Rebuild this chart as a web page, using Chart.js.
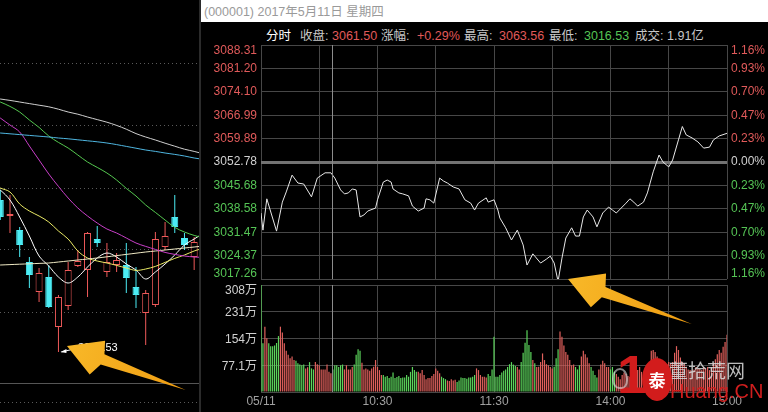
<!DOCTYPE html>
<html>
<head>
<meta charset="utf-8">
<title>上证指数 分时 2017-05-11</title>
<script src="https://cdn.jsdelivr.net/npm/chart.js@4.4.1/dist/chart.umd.min.js"></script>
<style>
  html, body { margin: 0; padding: 0; background: #000; }
  #stage { position: relative; width: 768px; height: 412px; overflow: hidden; background: #000;
           font-family: "Liberation Sans", Arial, "Noto Sans CJK SC", sans-serif; }
  #stage canvas { position: absolute; left: 0; top: 0; }
  .txt { position: absolute; white-space: nowrap; font-size: 12.5px; line-height: 14px; }
  .lbl { color: #c8c8c8; }
  .up { color: #e05a5a; }
  .dn { color: #55c455; }
</style>
</head>
<body>
<div id="stage">
  <div style="position:absolute;left:201px;top:0;width:567px;height:22px;background:#fff"></div>
  <div style="position:absolute;left:199px;top:0;width:2px;height:412px;background:#2b2b2b"></div>
  <div style="position:absolute;left:0;top:383px;width:199px;height:1px;background:#555"></div>

  <div class="txt" style="left:204px;top:5px;color:#9a9a9a">(000001) 2017年5月11日 星期四</div>
  <div class="txt" style="left:266px;top:29px;color:#fff">分时</div>
  <div class="txt lbl" style="left:300px;top:29px">收盘:</div>
  <div class="txt up" style="left:332px;top:29px">3061.50</div>
  <div class="txt lbl" style="left:381px;top:29px">涨幅:</div>
  <div class="txt up" style="left:417px;top:29px">+0.29%</div>
  <div class="txt lbl" style="left:464px;top:29px">最高:</div>
  <div class="txt up" style="left:499px;top:29px">3063.56</div>
  <div class="txt lbl" style="left:549px;top:29px">最低:</div>
  <div class="txt dn" style="left:584px;top:29px">3016.53</div>
  <div class="txt lbl" style="left:635px;top:29px">成交:</div>
  <div class="txt lbl" style="left:667px;top:29px">1.91亿</div>

  <canvas id="kline" width="768" height="412"></canvas>
  <canvas id="price" width="768" height="412"></canvas>
  <canvas id="vol" width="768" height="412"></canvas>

  <!-- watermark -->
  <div class="txt" style="left:669px;top:362px;font-size:19px;line-height:19px;color:rgba(220,220,220,.85)">董拾荒网</div>
  <div class="txt" style="left:617px;top:347px;font-size:54px;line-height:54px;font-weight:bold;color:#d21c1c">1</div>
  <div style="position:absolute;left:612px;top:368px;width:12px;height:17px;border:2px solid rgba(220,220,220,.6);border-radius:50% 50% 40% 45%"></div>
  <div style="position:absolute;left:642px;top:358px;width:30px;height:43px;border-radius:50%;background:#d21c1c;color:#fff;font:bold 17px/43px 'Noto Sans CJK SC';text-align:center">泰</div>
  <div class="txt" style="left:670px;top:381px;font-size:20px;line-height:20px;color:#d01e1e">Huang.CN</div>
</div>

<script>
const family = '"Liberation Sans", Arial, "Noto Sans CJK SC", sans-serif'
const gridColor = '#474747'
const upColor = '#e05a5a'
const downColor = '#55c455'
const flatColor = '#d0d0d0'

// ---- daily K-line (left, cropped) ----
const kIndex = [0, 1, 2, 3, 4, 5, 6, 7, 8, 9, 10, 11, 12, 13, 14, 15, 16, 17, 18, 19, 20]
const kOpen  = [3092.5, 3084.5, 3077.5, 3061.5, 3046.5, 3054.0, 3029.0, 3039.5, 3059.5, 3057.5, 3073.0, 3056.5, 3060.0, 3060.0, 3049.0, 3036.0, 3040.0, 3069.0, 3084.0, 3073.5, 3064.0]
const kClose = [3084.0, 3085.5, 3070.0, 3055.0, 3056.0, 3039.0, 3044.0, 3057.5, 3062.0, 3076.0, 3071.0, 3061.5, 3062.5, 3053.5, 3045.0, 3046.0, 3073.0, 3074.5, 3079.0, 3070.0, 3071.5]
const kHigh  = [3097.5, 3095.0, 3079.0, 3064.0, 3058.5, 3060.0, 3045.0, 3061.5, 3067.5, 3076.5, 3079.5, 3071.0, 3066.0, 3071.0, 3059.0, 3047.5, 3076.5, 3081.5, 3095.0, 3076.0, 3074.0]
const kLow   = [3082.5, 3076.0, 3064.0, 3048.5, 3041.5, 3038.5, 3016.53, 3037.5, 3059.0, 3044.0, 3069.0, 3054.0, 3056.5, 3046.0, 3038.5, 3020.0, 3039.0, 3067.5, 3076.0, 3067.5, 3057.5]
const kGrid  = [3161, 3129.5, 3098.5, 3067.5, 3036.5, 2991.5]

// moving averages, one value per candle (index -1 .. 21)
const maIndex = [-1, 0, 1, 2, 3, 4, 5, 6, 7, 8, 9, 10, 11, 12, 13, 14, 15, 16, 17, 18, 19, 20, 21]
const maGray    = [3143.8, 3143.0, 3142.3, 3141.5, 3140.7, 3139.9, 3139.1, 3137.9, 3136.5, 3135.4, 3134.0, 3132.7, 3131.4, 3129.8, 3127.9, 3125.7, 3124.0, 3122.5, 3120.9, 3119.4, 3117.9, 3116.8, 3115.5]
const maBlue    = [3126.4, 3126.0, 3125.6, 3125.2, 3124.8, 3124.4, 3124.0, 3123.5, 3123.1, 3122.6, 3122.1, 3121.6, 3121.0, 3120.2, 3119.3, 3118.4, 3117.5, 3116.8, 3116.0, 3115.3, 3114.5, 3113.5, 3112.8]
const maGreen   = [3143.5, 3141.5, 3139.3, 3136.5, 3132.5, 3128.8, 3124.5, 3121.3, 3118.5, 3115.0, 3111.5, 3108.8, 3106.0, 3102.5, 3098.3, 3094.5, 3090.0, 3086.3, 3082.5, 3078.8, 3076.5, 3074.8, 3073.5]
const maMagenta = [3137.5, 3133.5, 3130.0, 3126.5, 3119.5, 3112.5, 3105.5, 3099.3, 3093.5, 3088.5, 3084.5, 3081.0, 3078.0, 3076.0, 3073.5, 3071.0, 3069.3, 3067.8, 3066.3, 3065.3, 3064.5, 3064.0, 3063.8]
const maYellow  = [3101.0, 3098.5, 3096.5, 3090.5, 3087.0, 3084.5, 3081.5, 3077.0, 3073.0, 3067.0, 3063.5, 3062.0, 3061.0, 3059.8, 3058.5, 3057.3, 3058.0, 3059.3, 3061.3, 3063.3, 3065.0, 3067.0, 3068.5]
const maWhite   = [3101.5, 3097.5, 3092.5, 3084.0, 3074.5, 3064.5, 3059.5, 3054.0, 3051.0, 3054.0, 3059.0, 3063.5, 3066.0, 3064.0, 3060.5, 3057.5, 3053.0, 3056.5, 3060.5, 3065.0, 3070.0, 3073.0, 3076.0]
const maCream   = [3059.8, 3060.0, 3060.2, 3060.4, 3060.6, 3060.8, 3061.0, 3061.5, 3062.0, 3062.5, 3063.0, 3063.5, 3064.1, 3064.7, 3065.3, 3065.9, 3066.5, 3067.0, 3067.5, 3068.0, 3068.5, 3069.0, 3069.5]

// ---- intraday price, minutes after 09:30 (240 = 15:00) ----
const prevClose = 3052.78
const priceMinutes = [0, 1, 3, 8, 11, 13, 16, 19, 22, 26, 29, 33, 36, 38, 41, 43, 45, 47, 49, 51, 53, 55, 59, 60, 63, 65, 67, 68, 71, 73, 76, 78, 81, 84, 85, 87, 89, 92, 94, 96, 99, 102, 105, 108, 110, 112, 116, 117, 120,
  122, 123, 126, 129, 132, 135, 137, 140, 144, 147, 149, 151, 153, 155, 157, 160, 162, 164, 166, 168, 171, 173, 176, 179, 181, 183, 185, 188, 190, 192, 194, 197, 199, 202, 205, 207, 210, 212, 215, 217, 219, 222, 225, 228, 231, 233, 236, 240]
const priceValues = [3037.3, 3032.1, 3041.6, 3031.8, 3040.6, 3043.7, 3048.8, 3046.4, 3046.1, 3042.2, 3047.9, 3049.5, 3049.5, 3047.9, 3044.3, 3043.1, 3043.4, 3044.6, 3044.3, 3036.1, 3036.7, 3037.9, 3038.8, 3041.3, 3046.7, 3047.3, 3046.7, 3044.6, 3043.4, 3043.1, 3042.5, 3039.4, 3037.9, 3038.8, 3041.6, 3041.3, 3040.3, 3047.9, 3047.0, 3046.4, 3045.2, 3044.6, 3041.3, 3040.3, 3038.2, 3040.3, 3041.9, 3040.6, 3041.3,
  3038.2, 3035.8, 3032.8, 3029.1, 3032.1, 3027.6, 3021.5, 3024.9, 3022.1, 3023.3, 3024.2, 3022.1, 3016.53, 3023.6, 3029.7, 3032.8, 3030.3, 3030.3, 3036.1, 3038.2, 3036.1, 3033.1, 3037.3, 3039.1, 3038.2, 3037.3, 3038.5, 3040.3, 3041.6, 3040.6, 3039.4, 3040.6, 3043.4, 3049.8, 3054.9, 3052.8, 3051.3, 3053.4, 3059.5, 3063.56, 3061.0, 3060.1, 3058.9, 3057.0, 3057.3, 3059.5, 3060.7, 3061.5]
const priceTicks = [3088.31, 3081.20, 3074.10, 3066.99, 3059.89, 3052.78, 3045.68, 3038.58, 3031.47, 3024.37, 3017.26]
const pctLabels = ['1.16%', '0.93%', '0.70%', '0.47%', '0.23%', '0.00%', '0.23%', '0.47%', '0.70%', '0.93%', '1.16%']
const timeTicks = [0, 30, 60, 90, 120, 150, 180, 210, 240]
const timeLabels = ['05/11', '', '10:30', '', '11:30', '', '14:00', '', '15:00']
const cursorMinute = 36.5

// ---- volume per minute (万手); r = rising minute, g = falling minute ----
const volTicks = [77.1, 154, 231, 308]
const volTickLabels = ['77.1万', '154万', '231万', '308万']
const volumes = [308, 140, 188, 155, 140, 132, 132, 134, 141, 161, 188, 171, 140, 119, 107, 97, 102, 92, 90, 83,
  79, 77, 79, 68, 71, 86, 68, 65, 86, 80, 77, 65, 65, 65, 79, 58, 54, 65, 77, 77,
  72, 77, 79, 65, 77, 65, 65, 72, 79, 107, 123, 119, 84, 65, 68, 65, 61, 68, 73, 92,
  72, 63, 49, 49, 44, 46, 40, 44, 56, 40, 43, 46, 40, 42, 42, 49, 44, 58, 72, 63,
  58, 58, 54, 63, 49, 37, 40, 40, 46, 52, 68, 61, 54, 44, 40, 37, 33, 32, 37, 33,
  35, 29, 33, 42, 40, 40, 38, 42, 42, 44, 49, 68, 63, 49, 44, 44, 42, 52, 46, 65, 159,
  44, 44, 49, 56, 61, 65, 72, 80, 86, 79, 75, 72, 65, 86, 113, 142, 178, 135, 115, 92,
  83, 72, 73, 86, 111, 92, 80, 77, 72, 68, 73, 97, 123, 174, 159, 134, 115, 107, 92, 77,
  79, 72, 65, 77, 102, 119, 109, 99, 83, 72, 61, 49, 42, 65, 79, 90, 83, 72, 72, 65,
  72, 58, 52, 44, 37, 49, 56, 52, 46, 44, 49, 52, 55, 63, 72, 58, 44, 49, 54, 68,
  119, 121, 115, 102, 86, 83, 72, 68, 77, 86, 83, 86, 113, 132, 121, 99, 86, 83, 73, 65,
  63, 61, 65, 72, 68, 66, 63, 72, 68, 72, 63, 72, 83, 94, 109, 121, 113, 130, 144, 165]
const volDir = ('gg rr gggggg rrrrrrrr ggggg rr ggg rrrrrrrrr gggggg rrrrr gggg rrrrrrrrrrr gggggggggggggggggg rrrrrrrrrrrr ggg rrrrr gggggggggg rrrrrr gggg' +
  ' ggggggggggg rr gggggg r g rrrrrrrrr ggg rrrrrrrr ggg rrrrr gggg rrrrrr ggg rrrrrrrrrrrrrrrrrrrrrrrrrrrrrrrrrrrrrrrrrrrrrrrrrrrrrrrrrr').replace(/ /g, '').split('')

const noFx = { responsive: false, animation: false, events: [] }
const quiet = { legend: { display: false }, tooltip: { enabled: false } }

// ---------- left: cropped daily candles ----------
const lowMarker = {
  id: 'lowMarker',
  afterDatasetsDraw(chart) {
    const { ctx, scales: { x, y } } = chart
    const i = kLow.indexOf(Math.min(...kLow))
    const px = x.getPixelForValue(kIndex[i])
    const py = y.getPixelForValue(kLow[i])
    ctx.save()
    ctx.strokeStyle = '#fff'
    ctx.fillStyle = '#fff'
    ctx.lineWidth = 1
    ctx.beginPath()
    ctx.moveTo(px + 3, py)
    ctx.lineTo(px + 16, py - 3)
    ctx.stroke()
    ctx.beginPath()
    ctx.moveTo(px + 2, py)
    ctx.lineTo(px + 8, py - 3)
    ctx.lineTo(px + 8, py + 1)
    ctx.fill()
    ctx.font = '11px ' + family
    ctx.textBaseline = 'middle'
    ctx.fillText(kLow[i].toFixed(2), px + 19.5, py - 4)
    ctx.restore()
  }
}

const maSeries = [
  { values: maGray, color: '#cfcfcf' },
  { values: maBlue, color: '#4fb6e0' },
  { values: maGreen, color: '#55c850' },
  { values: maMagenta, color: '#c83fc8' },
  { values: maCream, color: '#efe9c4' },
  { values: maYellow, color: '#eaea66' },
  { values: maWhite, color: '#ffffff' }
]
const isUp = kIndex.map((k, i) => kClose[i] >= kOpen[i])
const kRed = '#f05a5a'
const kCyan = '#4cecf4'

const klineChart = new Chart(document.getElementById('kline'), {
  type: 'bar',
  data: {
    datasets: [
      ...maSeries.map(s => ({
        type: 'line',
        data: maIndex.map((k, i) => ({ x: k, y: s.values[i] })),
        borderColor: s.color, borderWidth: 1, pointRadius: 0, tension: 0.35, order: 0
      })),
      {
        data: kIndex.map((k, i) => ({ x: k, y: [kLow[i], kHigh[i]] })),
        backgroundColor: isUp.map(u => u ? kRed : kCyan),
        barThickness: 1, grouped: false, order: 2, inflateAmount: 0, borderWidth: 0
      },
      {
        data: kIndex.map((k, i) => ({ x: k, y: [kOpen[i], kClose[i]] })),
        backgroundColor: isUp.map(u => u ? '#000' : kCyan),
        borderColor: isUp.map(u => u ? kRed : kCyan),
        borderWidth: 1, borderSkipped: false, barThickness: 7, grouped: false, order: 1, inflateAmount: 0
      }
    ]
  },
  options: {
    ...noFx,
    layout: { padding: { left: 0, right: 569, top: 0, bottom: 0 } },
    plugins: quiet,
    scales: {
      x: { type: 'linear', min: -0.03, max: 20.5, offset: false, display: false },
      y: {
        min: 2986.5, max: 3192.5,
        afterBuildTicks: s => { s.ticks = kGrid.map(v => ({ value: v })) },
        afterFit: s => { s.width = 0 },
        grid: { color: '#5a5a5a', drawTicks: false },
        border: { display: false, dash: [1, 3] },
        ticks: { display: false }
      }
    }
  },
  plugins: [lowMarker]
})

// ---------- right top: intraday price ----------
const priceLabels = {
  id: 'priceLabels',
  afterDraw(chart) {
    const { ctx, chartArea, scales: { x, y } } = chart
    ctx.save()
    const cx = Math.round(x.getPixelForValue(cursorMinute)) + 0.5
    ctx.strokeStyle = '#8c8c8c'
    ctx.beginPath()
    ctx.moveTo(cx, chartArea.top)
    ctx.lineTo(cx, chartArea.bottom)
    ctx.stroke()
    ctx.font = '12px ' + family
    ctx.textBaseline = 'middle'
    priceTicks.forEach((v, i) => {
      let py = y.getPixelForValue(v)
      if (i === 0) py += 6
      if (i === priceTicks.length - 1) py -= 5
      ctx.fillStyle = v > prevClose + 0.001 ? upColor : (v < prevClose - 0.001 ? downColor : flatColor)
      ctx.textAlign = 'right'
      ctx.fillText(v.toFixed(2), chartArea.left - 4, py)
      ctx.textAlign = 'left'
      ctx.fillText(pctLabels[i], chartArea.right + 4, py)
    })
    ctx.restore()
  }
}

const isZero = c => c.tick && Math.abs(c.tick.value - prevClose) < 0.001

const priceChart = new Chart(document.getElementById('price'), {
  type: 'line',
  data: {
    datasets: [{
      data: priceMinutes.map((m, i) => ({ x: m, y: priceValues[i] })),
      borderColor: '#e8e8e8', borderWidth: 1, pointRadius: 0, tension: 0
    }]
  },
  options: {
    ...noFx,
    layout: { padding: { left: 200, top: 45, right: 0, bottom: 133 } },
    plugins: quiet,
    scales: {
      x: {
        type: 'linear', min: 0, max: 240,
        afterBuildTicks: s => { s.ticks = timeTicks.map(v => ({ value: v })) },
        afterFit: s => { s.height = 0 },
        grid: { color: gridColor, drawTicks: false },
        border: { display: false },
        ticks: { display: false }
      },
      y: {
        min: 3017.26, max: 3088.31,
        afterBuildTicks: s => { s.ticks = priceTicks.map(v => ({ value: v })) },
        afterFit: s => { s.width = 61 },
        grid: {
          color: c => isZero(c) ? '#737373' : gridColor,
          lineWidth: c => isZero(c) ? 3 : 1,
          drawTicks: false
        },
        border: { display: false },
        ticks: { display: false }
      },
      y2: {
        position: 'right', min: 3017.26, max: 3088.31,
        afterFit: s => { s.width = 41 },
        grid: { display: false },
        border: { display: false },
        ticks: { display: false }
      }
    }
  },
  plugins: [priceLabels]
})

// ---------- right bottom: volume + overlay arrows ----------
function drawArrow(ctx, tip, tail) {
  const dx = tail[0] - tip[0]
  const dy = tail[1] - tip[1]
  const len = Math.hypot(dx, dy)
  const ux = dx / len
  const uy = dy / len
  const shape = [[0, 0], [34, -18], [38, -5], [len, 1], [38, 6], [31, 19]]
  const grad = ctx.createLinearGradient(tip[0], tip[1], tail[0], tail[1])
  grad.addColorStop(0, '#f8b828')
  grad.addColorStop(1, '#ef9d12')
  ctx.beginPath()
  shape.forEach(([u, v], i) => {
    const px = tip[0] + ux * u - uy * v
    const py = tip[1] + uy * u + ux * v
    if (i) ctx.lineTo(px, py)
    else ctx.moveTo(px, py)
  })
  ctx.closePath()
  ctx.fillStyle = grad
  ctx.fill()
}

const volLabels = {
  id: 'volLabels',
  afterDraw(chart) {
    const { ctx, chartArea, scales: { x, y } } = chart
    ctx.save()
    const cx = Math.round(x.getPixelForValue(cursorMinute)) + 0.5
    ctx.strokeStyle = '#8c8c8c'
    ctx.beginPath()
    ctx.moveTo(cx, chartArea.top)
    ctx.lineTo(cx, chartArea.bottom)
    ctx.stroke()
    ctx.font = '12px ' + family
    ctx.textBaseline = 'middle'
    ctx.textAlign = 'right'
    ctx.fillStyle = '#d0d0d0'
    volTicks.forEach((v, i) => {
      let py = y.getPixelForValue(v) + 1
      if (i === volTicks.length - 1) py += 5
      ctx.fillText(volTickLabels[i], chartArea.left - 4, py)
    })
    // annotation arrows
    drawArrow(ctx, [67, 346], [186, 389])
    drawArrow(ctx, [568, 279], [692, 323])
    ctx.restore()
  }
}

const volChart = new Chart(document.getElementById('vol'), {
  type: 'bar',
  data: {
    datasets: [{
      data: volumes.map((v, i) => ({ x: i, y: v })),
      backgroundColor: volDir.map(d => d === 'r' ? '#e0605c' : '#5cd65c'),
      barThickness: 1.2, inflateAmount: 0, borderWidth: 0
    }]
  },
  options: {
    ...noFx,
    layout: { padding: { left: 200, top: 285, right: 41, bottom: 0 } },
    plugins: quiet,
    scales: {
      x: {
        type: 'linear', min: 0, max: 240, offset: false,
        afterBuildTicks: s => { s.ticks = timeTicks.map(v => ({ value: v })) },
        afterFit: s => { s.height = 20 },
        grid: { color: gridColor, offset: false, drawTicks: false },
        border: { display: false },
        ticks: {
          color: '#a0a0a0', font: { size: 12, family }, padding: 2,
          autoSkip: false, maxRotation: 0,
          callback: (v, i) => timeLabels[i]
        }
      },
      y: {
        min: 0, max: 308,
        afterBuildTicks: s => { s.ticks = [0, ...volTicks].map(v => ({ value: v })) },
        afterFit: s => { s.width = 61 },
        grid: { color: gridColor, drawTicks: false },
        border: { display: false },
        ticks: { display: false }
      }
    }
  },
  plugins: [volLabels]
})
</script>
</body>
</html>
